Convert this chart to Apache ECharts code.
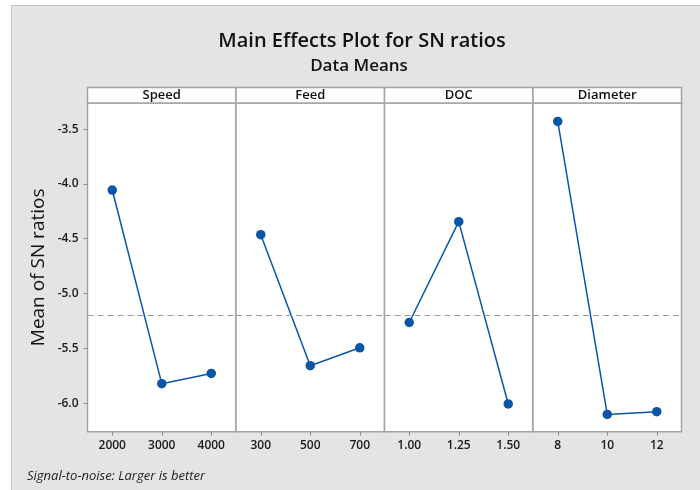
<!DOCTYPE html>
<html>
<head>
<meta charset="utf-8">
<script src="https://cdn.jsdelivr.net/npm/echarts@6/dist/echarts.min.js"></script>
<style>
html,body{margin:0;padding:0;background:#fff;}
#chart{width:700px;height:490px;}
</style>
</head>
<body>
<div id="chart"></div>
<script>
var factors = ['Speed', 'Feed', 'DOC', 'Diameter'];
var speedLevels = ['2000', '3000', '4000'];
var speedSN = [-4.056, -5.822, -5.729];
var feedLevels = ['300', '500', '700'];
var feedSN = [-4.463, -5.658, -5.495];
var docLevels = ['1.00', '1.25', '1.50'];
var docSN = [-5.264, -4.344, -6.007];
var diameterLevels = ['8', '10', '12'];
var diameterSN = [-3.430, -6.102, -6.077];
var yTicks = [-6.0, -5.5, -5.0, -4.5, -4.0, -3.5];

var levels = [speedLevels, feedLevels, docLevels, diameterLevels];
var values = [speedSN, feedSN, docSN, diameterSN];

var all = [].concat(speedSN, feedSN, docSN, diameterSN);
var grandMean = all.reduce(function (a, b) { return a + b; }, 0) / all.length;

var FONT = '"Open Sans", "Noto Sans", sans-serif';
var panelLeft = 87.5, panelW = 148.5, gridTop = 103, gridBottom = 490 - 431.7;
var yMin = -6.26, yMax = -3.262;
var blue = '#0b56a4';

var grids = [], xAxes = [], yAxes = [], series = [], graphics = [];

graphics.push({
  type: 'rect', z: -10, silent: true,
  shape: { x: 11.5, y: 5.5, width: 700, height: 490 },
  style: { fill: '#e4e4e4', stroke: '#c4c4c4', lineWidth: 1 }
});

for (var i = 0; i < factors.length; i++) {
  var left = panelLeft + i * panelW;
  grids.push({
    left: left, top: gridTop, width: panelW, bottom: gridBottom,
    show: true, backgroundColor: '#ffffff', borderColor: '#a3a3a3', borderWidth: 1.5
  });
  xAxes.push({
    type: 'category', gridIndex: i, data: levels[i], boundaryGap: true,
    axisLine: { show: false },
    axisTick: { show: true, alignWithLabel: true, length: 4, lineStyle: { color: '#8a8a8a', width: 1 } },
    axisLabel: { color: '#1a1a1a', fontSize: 12, fontFamily: FONT, fontWeight: 600, margin: 8 },
    splitLine: { show: false }
  });
  var yAx = {
    type: 'value', gridIndex: i, min: yMin, max: yMax,
    axisLine: { show: false },
    splitLine: { show: false },
    axisTick: { show: i === 0, length: 4, customValues: yTicks, lineStyle: { color: '#8a8a8a' } },
    axisLabel: {
      show: i === 0, customValues: yTicks, color: '#1a1a1a', fontSize: 12, fontFamily: FONT, fontWeight: 600, margin: 9,
      formatter: function (v) { return v.toFixed(1); }
    }
  };
  if (i === 0) {
    yAx.name = 'Mean of SN ratios';
    yAx.nameLocation = 'middle';
    yAx.nameGap = 39;
    yAx.nameTextStyle = { fontSize: 19, color: '#111', fontFamily: FONT };
  }
  yAxes.push(yAx);
  series.push({
    type: 'line', xAxisIndex: i, yAxisIndex: i, data: values[i],
    symbol: 'circle', symbolSize: 9.5,
    lineStyle: { color: blue, width: 1.5 },
    itemStyle: { color: blue },
    markLine: {
      silent: true, symbol: 'none', label: { show: false },
      lineStyle: { color: '#999999', type: [6, 4], width: 1 },
      data: [{ yAxis: grandMean }]
    },
    z: 3
  });
  graphics.push({
    type: 'rect', silent: true,
    shape: { x: left, y: 87.5, width: panelW, height: 15.5 },
    style: { fill: '#ffffff', stroke: '#a3a3a3', lineWidth: 1.5 }
  });
  graphics.push({
    type: 'text', silent: true,
    x: left + panelW / 2, y: 95.5,
    style: { text: factors[i], fill: '#111', font: '600 13px ' + FONT, align: 'center', verticalAlign: 'middle' }
  });
}

graphics.push({
  type: 'text', silent: true, x: 27, y: 476,
  style: { text: 'Signal-to-noise: Larger is better', fill: '#222', font: 'italic 13px ' + FONT, align: 'left', verticalAlign: 'middle' }
});

var chart = echarts.init(document.getElementById('chart'), null, { renderer: 'canvas' });
chart.setOption({
  backgroundColor: '#ffffff',
  animation: false,
  title: [
    { text: 'Main Effects Plot for SN ratios', left: 362, textAlign: 'center', top: 31, padding: 0,
      textStyle: { fontSize: 20, fontWeight: 600, color: '#111', fontFamily: FONT } },
    { text: 'Data Means', left: 359, textAlign: 'center', top: 58, padding: 0,
      textStyle: { fontSize: 17, fontWeight: 600, color: '#111', fontFamily: FONT } }
  ],
  grid: grids,
  xAxis: xAxes,
  yAxis: yAxes,
  series: series,
  graphic: graphics
});
</script>
</body>
</html>
